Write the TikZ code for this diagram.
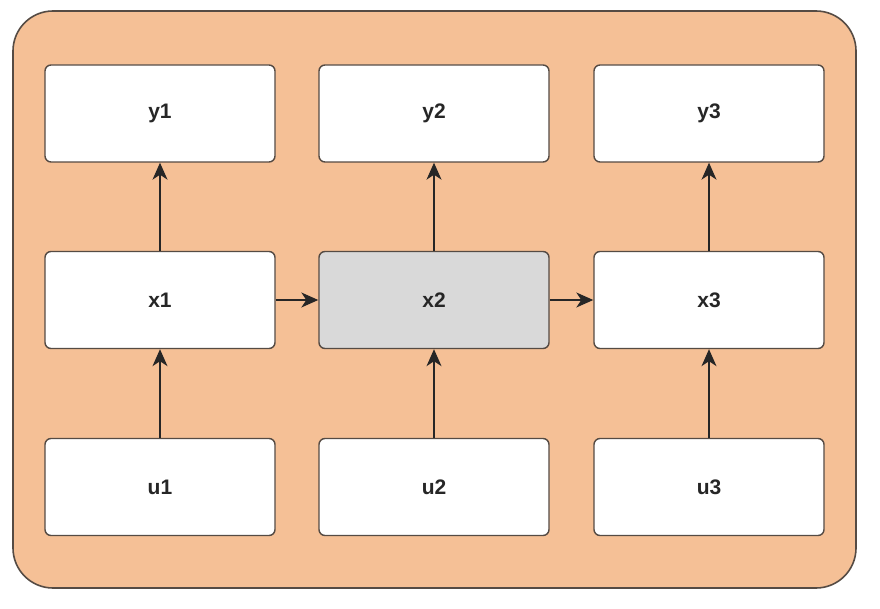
\documentclass[tikz,border=0pt]{standalone}
\usepackage{fontspec}
\setmainfont{Liberation Sans}
\usetikzlibrary{arrows.meta}
\definecolor{bgorange}{RGB}{245,192,150}
\definecolor{edgec}{RGB}{85,75,68}
\definecolor{grayfill}{RGB}{217,217,217}
\begin{document}
\begin{tikzpicture}[x=1pt,y=-1pt,
  box/.style={draw=edgec,line width=1.4pt,fill=white,rounded corners=6pt,minimum width=230pt,minimum height=97pt,inner sep=0pt,font=\fontsize{21}{24}\selectfont\bfseries,text=black!85},
  conn/.style={draw=black!85,line width=1.3pt,-{Stealth[length=17pt,width=15pt,inset=5pt]}}]
\useasboundingbox (0,0) rectangle (880,609);
\fill[white] (0,0) rectangle (880,609);
\draw[draw=edgec,fill=bgorange,line width=1.6pt,rounded corners=40pt] (13,11) rectangle (856,588);
\node[box] (y1) at (160,113.5) {y1};
\node[box] (y2) at (434,113.5) {y2};
\node[box] (y3) at (709,113.5) {y3};
\node[box] (x1) at (160,300) {x1};
\node[box,fill=grayfill] (x2) at (434,300) {x2};
\node[box] (x3) at (709,300) {x3};
\node[box] (u1) at (160,487) {u1};
\node[box] (u2) at (434,487) {u2};
\node[box] (u3) at (709,487) {u3};
\draw[conn] (x1) -- (y1);
\draw[conn] (x2) -- (y2);
\draw[conn] (x3) -- (y3);
\draw[conn] (u1) -- (x1);
\draw[conn] (u2) -- (x2);
\draw[conn] (u3) -- (x3);
\draw[conn] (x1) -- (x2);
\draw[conn] (x2) -- (x3);
\end{tikzpicture}
\end{document}
